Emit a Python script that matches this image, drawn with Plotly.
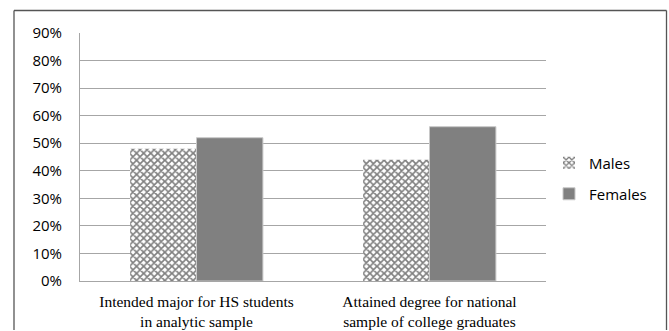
import plotly.graph_objects as go

categories = ["Intended major for HS students<br>in analytic sample",
              "Attained degree for national<br>sample of college graduates"]
males = [0.48, 0.44]
females = [0.52, 0.56]
tick_vals = [0, 0.1, 0.2, 0.3, 0.4, 0.5, 0.6, 0.7, 0.8, 0.9]

W, H = 669, 331
L, R, T, B = 80, 123, 33, 50
pw, ph = W - L - R, H - T - B

def px_x(x):
    return (x - L) / pw

def px_y(y):
    return (H - B - y) / ph

fig = go.Figure()
fig.add_trace(go.Bar(
    x=categories, y=males, name="Males", legend="legend",
    marker=dict(color="white", line=dict(width=0),
                pattern=dict(shape="x", fgcolor="black", bgcolor="white",
                             size=5, solidity=0.55)),
))
fig.add_trace(go.Bar(
    x=categories, y=females, name="Females", legend="legend2",
    marker=dict(color="#808080", line=dict(width=1, color="#c8c8c8")),
))

fig.update_layout(
    width=W, height=H,
    margin=dict(l=L, r=R, t=T, b=B, autoexpand=False),
    paper_bgcolor="white", plot_bgcolor="white",
    barmode="group", bargap=0.43, bargroupgap=0,
    font=dict(family="Open Sans", size=15, color="black"),
    legend=dict(x=px_x(549), y=px_y(163), xanchor="left", yanchor="middle",
                bgcolor="rgba(0,0,0,0)", font=dict(size=15, family="Open Sans")),
    legend2=dict(x=px_x(549), y=px_y(194), xanchor="left", yanchor="middle",
                 bgcolor="rgba(0,0,0,0)", font=dict(size=15, family="Open Sans")),
    showlegend=True,
)
fig.update_yaxes(range=[0, 0.9], tickvals=tick_vals, tickformat=".0%",
                 showgrid=True, gridcolor="#a6a6a6", gridwidth=1.3,
                 showline=True, linecolor="#a6a6a6", linewidth=1,
                 ticks="", ticklabelstandoff=14, zeroline=False,
                 tickfont=dict(family="Open Sans", size=15))
fig.update_xaxes(showline=True, linecolor="#a6a6a6", linewidth=1.3,
                 ticks="", tickfont=dict(family="Liberation Serif", size=15.5),
                 ticklabelstandoff=6)

border = dict(color="#555555", width=1.3)
x0, x1 = px_x(14), px_x(666.5)
y0, y1 = px_y(330), px_y(10.5)
fig.add_shape(type="line", xref="paper", yref="paper",
              x0=x0, y0=y1, x1=x1, y1=y1, line=border, layer="above")
fig.add_shape(type="line", xref="paper", yref="paper",
              x0=x0, y0=y0, x1=x0, y1=y1, line=border, layer="above")
fig.add_shape(type="line", xref="paper", yref="paper",
              x0=x1, y0=y0, x1=x1, y1=y1, line=border, layer="above")

fig.write_html("out.html", config={"displayModeBar": False},
               post_script="document.body.style.margin='0';document.body.style.overflow='hidden';")
